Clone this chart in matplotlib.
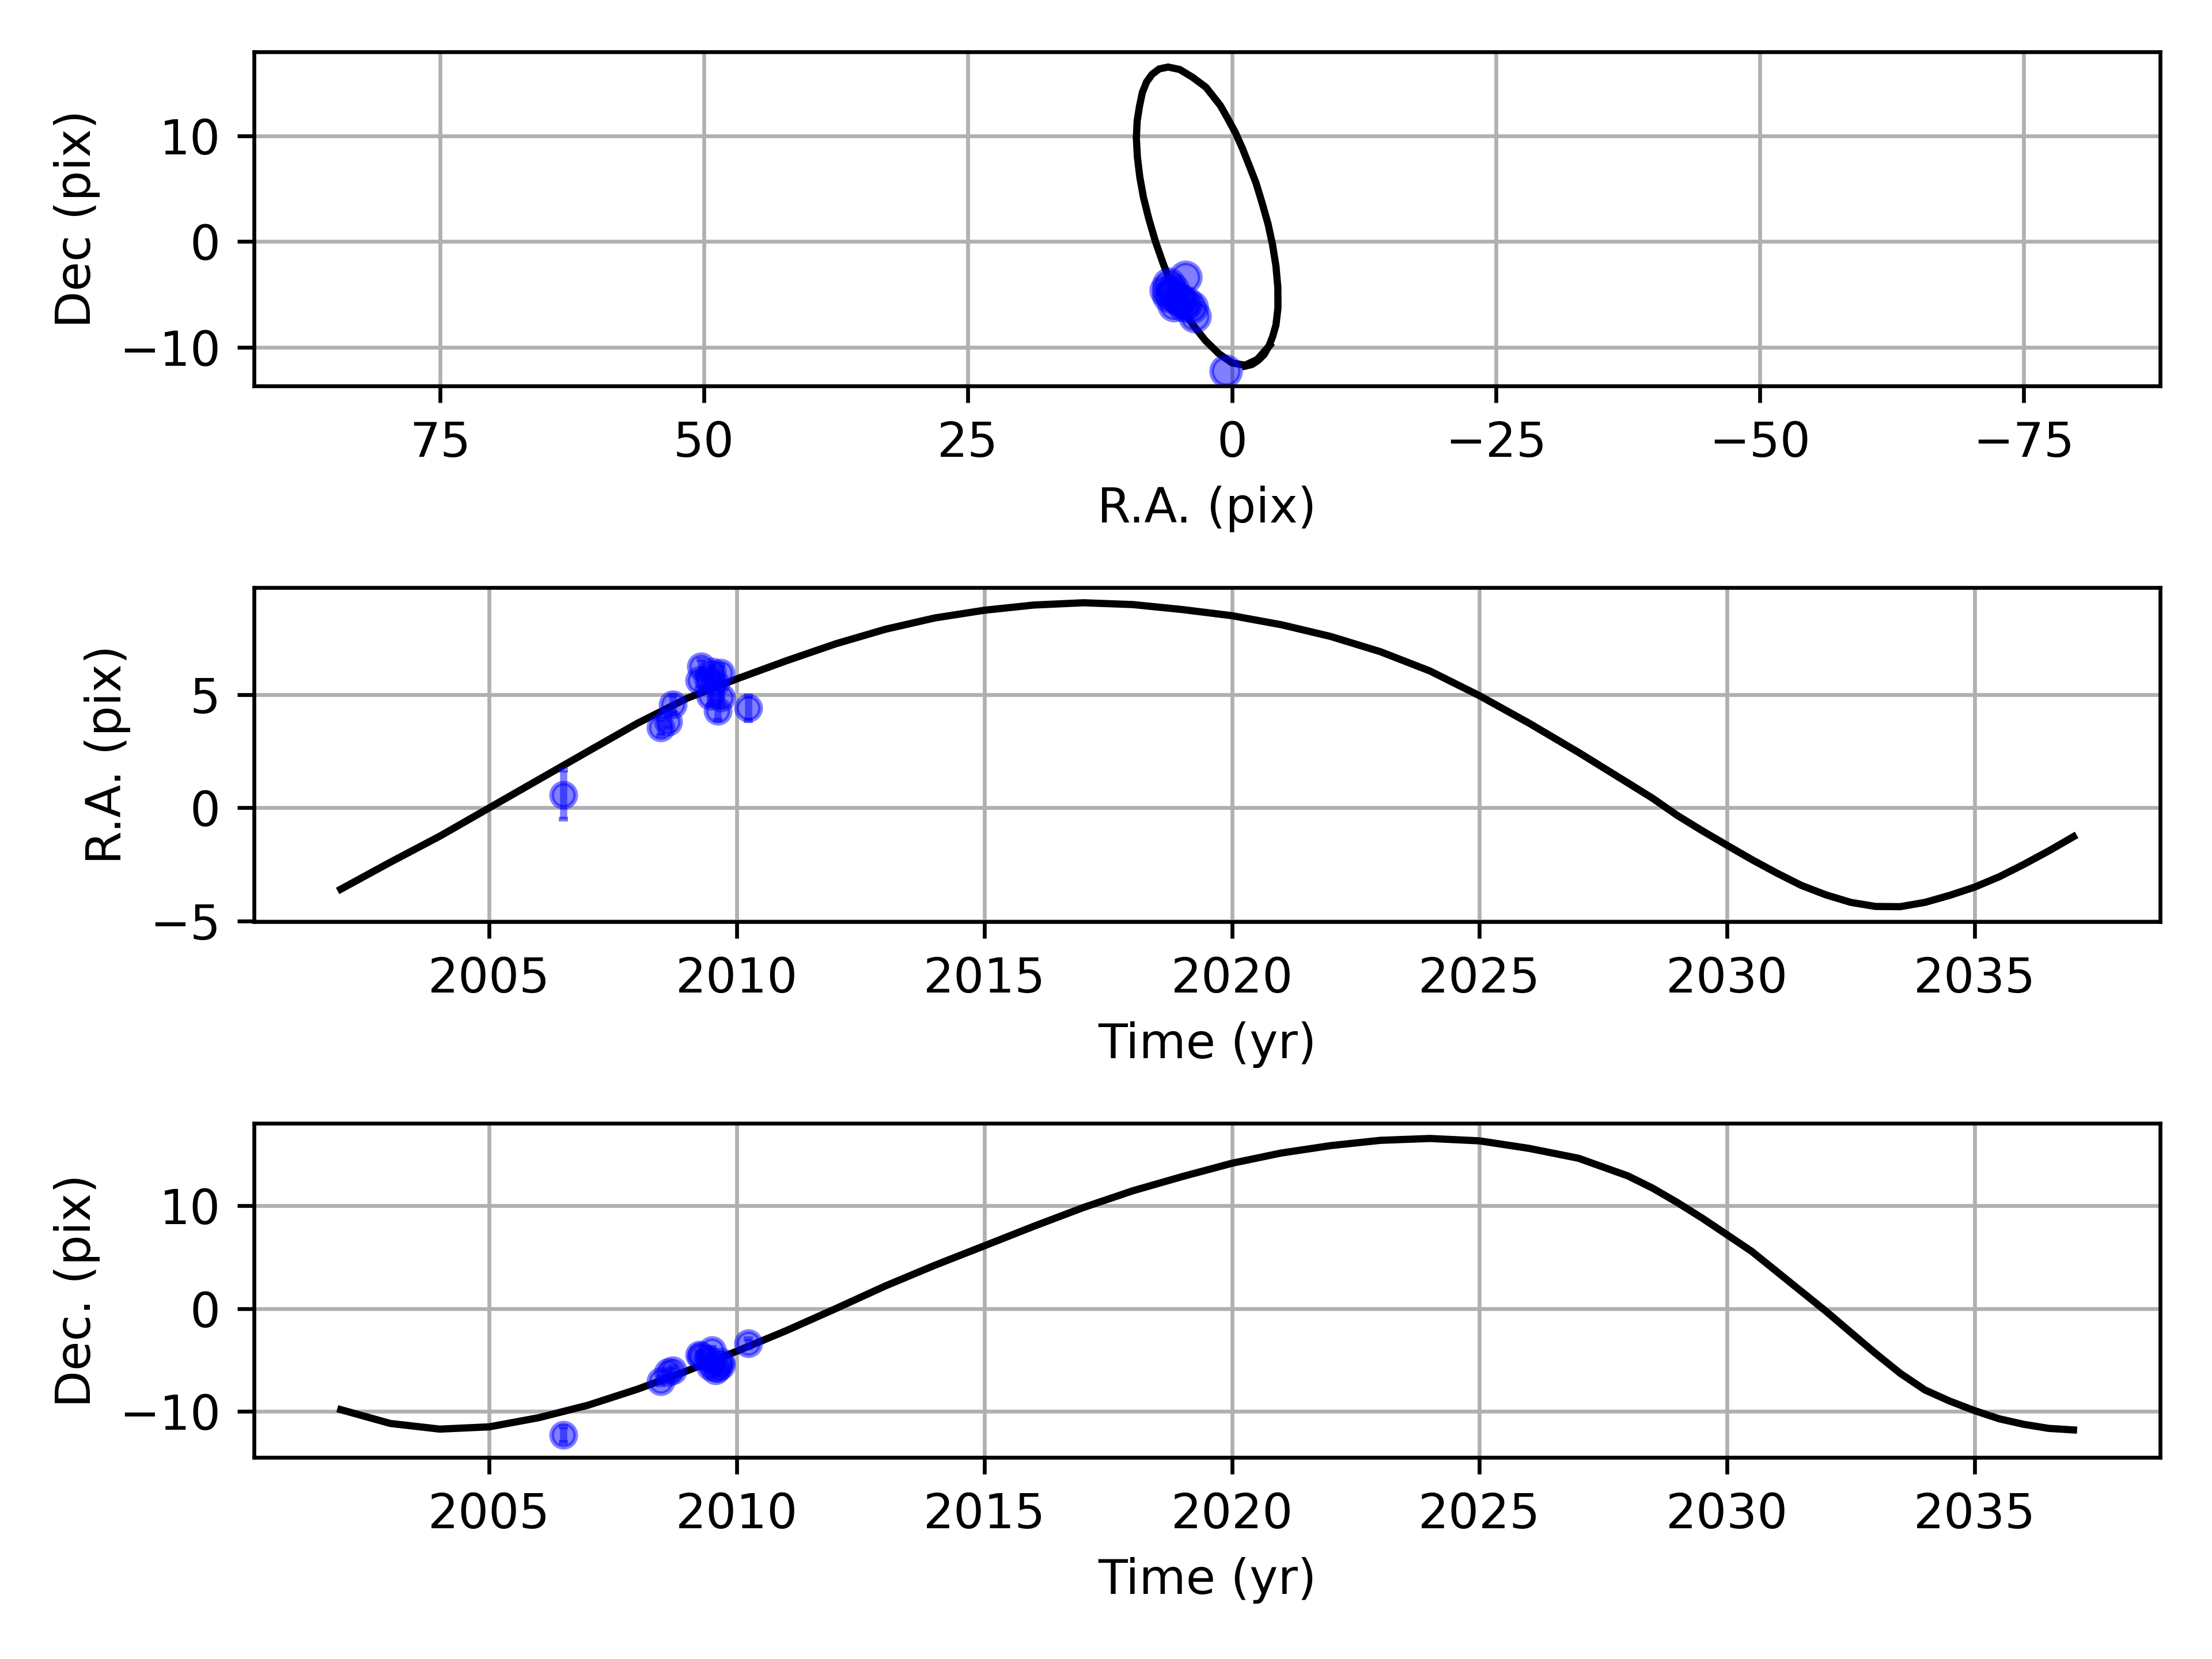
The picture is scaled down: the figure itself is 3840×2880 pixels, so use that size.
import matplotlib
matplotlib.use('Agg')
import matplotlib.pyplot as plt

# model orbit (yearly, then half-yearly where it bends)
model_time = [2002, 2003, 2004, 2005, 2006, 2007, 2008, 2009, 2010, 2011,
              2012, 2013, 2014, 2015, 2016, 2017, 2018, 2019, 2020, 2021,
              2022, 2023, 2024, 2025, 2026, 2027, 2028,
              2028.5, 2029, 2029.5, 2030, 2030.5, 2031, 2031.5, 2032, 2032.5,
              2033, 2033.5, 2034, 2034.5, 2035, 2035.5, 2036, 2036.5, 2037]
ra_model = [-3.59, -2.40, -1.25, 0.00, 1.25, 2.50, 3.74, 4.84, 5.69, 6.49,
            7.24, 7.88, 8.38, 8.72, 8.95, 9.05, 8.97, 8.75, 8.48, 8.08,
            7.56, 6.89, 6.04, 4.95, 3.74, 2.45, 1.10,
            0.42, -0.34, -1.01, -1.65, -2.28, -2.87, -3.42, -3.84, -4.17,
            -4.35, -4.36, -4.17, -3.86, -3.50, -3.04, -2.49, -1.90, -1.27]
dec_model = [-9.82, -11.16, -11.71, -11.49, -10.60, -9.38, -7.82, -6.04, -4.14, -2.14,
             0.00, 2.20, 4.21, 6.10, 8.00, 9.82, 11.45, 12.83, 14.12, 15.12,
             15.84, 16.35, 16.53, 16.30, 15.57, 14.61, 12.89,
             11.70, 10.30, 8.79, 7.18, 5.56, 3.62, 1.68, -0.26, -2.31,
             -4.35, -6.29, -7.91, -8.99, -9.91, -10.71, -11.25, -11.64, -11.79]

# observed positions
obs_time = [2006.50, 2008.46, 2008.61, 2008.71, 2009.24, 2009.28, 2009.42,
            2009.46, 2009.50, 2009.57, 2009.61, 2009.67, 2009.69, 2010.23]
obs_ra = [0.58, 3.54, 3.81, 4.57, 5.62, 6.25, 5.70, 4.94, 6.00, 5.50, 4.27, 5.95, 4.86, 4.40]
obs_dec = [-12.25, -7.05, -6.20, -6.02, -4.51, -4.60, -4.89, -5.60, -4.04, -6.02,
           -5.80, -5.17, -5.50, -3.36]
ra_err = [1.08, 0.35, 0.30, 0.40, 0.35, 0.30, 0.35, 0.40, 0.35, 0.30, 0.40, 0.35, 0.40, 0.55]
dec_err = [0.75, 0.35, 0.30, 0.35, 0.30, 0.30, 0.35, 0.35, 0.30, 0.35, 0.35, 0.30, 0.35, 0.45]

fig, (ax1, ax2, ax3) = plt.subplots(3, 1, figsize=(6.4, 4.8))

ax1.plot(ra_model, dec_model, 'k-')
ax1.plot(obs_ra, obs_dec, 'bo', alpha=0.5, ms=6)
ax1.set_aspect('equal', adjustable='datalim')
ax1.invert_xaxis()
ax1.set_xlabel('R.A. (pix)')
ax1.set_ylabel('Dec (pix)')
ax1.grid(True)

ax2.plot(model_time, ra_model, 'k-')
ax2.errorbar(obs_time, obs_ra, yerr=ra_err, fmt='o', color='b', alpha=0.5, ms=5, capsize=1)
ax2.set_xlabel('Time (yr)')
ax2.set_ylabel('R.A. (pix)')
ax2.grid(True)

ax3.plot(model_time, dec_model, 'k-')
ax3.errorbar(obs_time, obs_dec, yerr=dec_err, fmt='o', color='b', alpha=0.5, ms=5, capsize=1)
ax3.set_xlabel('Time (yr)')
ax3.set_ylabel('Dec. (pix)')
ax3.grid(True)

plt.tight_layout()
plt.savefig('out.png', dpi=600)
